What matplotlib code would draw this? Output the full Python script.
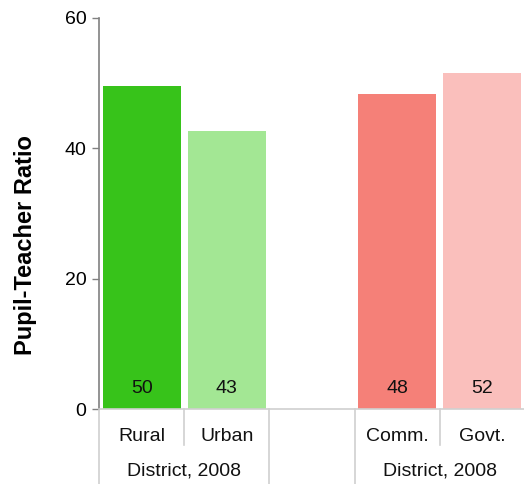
import numpy as np
import matplotlib.pyplot as plt
import matplotlib.transforms as mtransforms

plt.rcParams['font.family'] = ['Liberation Sans', 'DejaVu Sans']

# data
categories = ['Rural', 'Urban', '', 'Comm.', 'Govt.']
values = [49.6, 42.7, np.nan, 48.3, 51.6]
value_labels = ['50', '43', '', '48', '52']
colors = ['#37c31a', '#a3e794', '#ffffff', '#f58078', '#fabfbc']
group_labels = ['District, 2008', 'District, 2008']
group_centers = [0.5, 3.5]

fig = plt.figure(figsize=(5.24, 4.84), dpi=100)
ax = fig.add_axes([0.189, 0.154, 0.813, 0.809])

x = np.arange(len(categories))
ax.bar(x, np.nan_to_num(values), width=0.915, color=colors, zorder=2)

for xi, v, lab in zip(x, values, value_labels):
    if lab:
        ax.text(xi, 3.2, lab, ha='center', va='center', fontsize=14, color='#111111')

ax.set_xlim(-0.5, 4.5)
ax.set_ylim(0, 60)
ax.set_yticks([0, 20, 40, 60])
ax.tick_params(axis='y', length=5, width=1, color='#808080', labelsize=14, pad=4)
ax.set_xticks([])

for s in ['top', 'right']:
    ax.spines[s].set_visible(False)
ax.spines['left'].set_color('#808080')
ax.spines['left'].set_linewidth(1.2)
ax.spines['bottom'].set_color('#d0d0d0')
ax.spines['bottom'].set_linewidth(1.2)

ax.set_ylabel('Pupil-Teacher Ratio', fontsize=17, fontweight='bold')
ax.yaxis.set_label_coords(-0.145, 0.42)

# category axis lines below the plot
trans = mtransforms.blended_transform_factory(ax.transData, ax.transAxes)
long_sep = [-0.5, 1.5, 2.5]
short_sep = [0.5, 3.5]
for s in long_sep:
    ax.plot([s, s], [0, -0.2], transform=trans, color='#d0d0d0', lw=1.2, clip_on=False)
for s in short_sep:
    ax.plot([s, s], [0, -0.09], transform=trans, color='#d0d0d0', lw=1.2, clip_on=False)

for xi, c in zip(x, categories):
    ax.text(xi, -0.068, c, transform=trans, ha='center', va='center', fontsize=14, color='#111111')
for gc, g in zip(group_centers, group_labels):
    ax.text(gc, -0.157, g, transform=trans, ha='center', va='center', fontsize=14, color='#111111')

fig.savefig('out.png', dpi=100)
